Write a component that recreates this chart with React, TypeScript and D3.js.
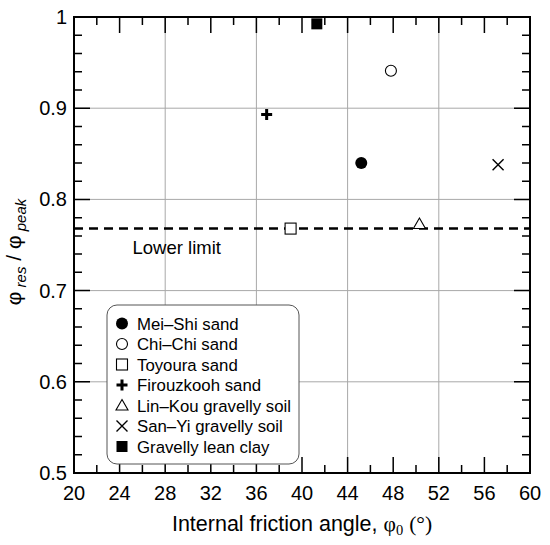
import { useEffect, useRef } from "react";
import * as d3 from "d3";

const seriesNames = [
  "Mei–Shi sand",
  "Chi–Chi sand",
  "Toyoura sand",
  "Firouzkooh sand",
  "Lin–Kou gravelly soil",
  "San–Yi gravelly soil",
  "Gravelly lean clay",
];
const seriesSymbols = ["dotFilled", "dotOpen", "squareOpen", "plus", "triangle", "cross", "squareFilled"];
const frictionAngle = [45.2, 47.8, 39.0, 36.9, 50.3, 57.2, 41.3];
const ratioValues = [0.84, 0.941, 0.768, 0.893, 0.773, 0.838, 0.9925];
const lowerLimit = 0.768;

const xTicks = [20, 24, 28, 32, 36, 40, 44, 48, 52, 56, 60];
const xGrid = [28, 36, 44, 52];
const yTicks = [0.5, 0.6, 0.7, 0.8, 0.9, 1];
const yTickLabels = ["0.5", "0.6", "0.7", "0.8", "0.9", "1"];

const FONT = "'Liberation Sans', Arial, sans-serif";

type Sel = d3.Selection<SVGGElement, unknown, null, undefined>;

function drawSymbol(g: Sel, kind: string, cx: number, cy: number) {
  const s = 5.5;
  if (kind === "dotFilled") {
    g.append("circle").attr("cx", cx).attr("cy", cy).attr("r", 6).attr("fill", "#000");
  } else if (kind === "dotOpen") {
    g.append("circle").attr("cx", cx).attr("cy", cy).attr("r", 5.5)
      .attr("fill", "#fff").attr("stroke", "#000").attr("stroke-width", 1.1);
  } else if (kind === "squareOpen") {
    g.append("rect").attr("x", cx - s).attr("y", cy - s).attr("width", 2 * s).attr("height", 2 * s)
      .attr("fill", "#fff").attr("stroke", "#000").attr("stroke-width", 1.1);
  } else if (kind === "squareFilled") {
    g.append("rect").attr("x", cx - s).attr("y", cy - s).attr("width", 2 * s).attr("height", 2 * s)
      .attr("fill", "#000");
  } else if (kind === "plus") {
    g.append("path")
      .attr("d", `M${cx - s},${cy}H${cx + s}M${cx},${cy - s}V${cy + s}`)
      .attr("stroke", "#000").attr("stroke-width", 3);
  } else if (kind === "triangle") {
    g.append("path")
      .attr("d", `M${cx},${cy - 6}L${cx + 6},${cy + 4.5}L${cx - 6},${cy + 4.5}Z`)
      .attr("fill", "#fff").attr("stroke", "#000").attr("stroke-width", 1.1);
  } else if (kind === "cross") {
    g.append("path")
      .attr("d", `M${cx - s},${cy - s}L${cx + s},${cy + s}M${cx - s},${cy + s}L${cx + s},${cy - s}`)
      .attr("stroke", "#000").attr("stroke-width", 1.4);
  }
}

function ResidualChart() {
  const svgRef = useRef<SVGSVGElement>(null);
  const width = 550;
  const height = 545;

  useEffect(() => {
    if (!svgRef.current) return;
    const svg = d3.select(svgRef.current);
    svg.selectAll("*").remove();

    const left = 74, right = 530, top = 17, bottom = 473;
    const x = d3.scaleLinear().domain([20, 60]).range([left, right]);
    const y = d3.scaleLinear().domain([0.5, 1]).range([bottom, top]);

    const g = svg.append("g") as unknown as Sel;

    g.append("rect").attr("width", width).attr("height", height).attr("fill", "#fff");

    // grid
    g.selectAll(".gx").data(xGrid).enter().append("line")
      .attr("x1", (d) => x(d)).attr("x2", (d) => x(d))
      .attr("y1", top).attr("y2", bottom)
      .attr("stroke", "#a8a8a8").attr("stroke-width", 1);
    g.selectAll(".gy").data(yTicks.slice(1, -1)).enter().append("line")
      .attr("x1", left).attr("x2", right)
      .attr("y1", (d) => y(d)).attr("y2", (d) => y(d))
      .attr("stroke", "#a8a8a8").attr("stroke-width", 1);

    // ticks (inward, both sides)
    const xMinor = d3.range(22, 60, 4);
    const yMinor = d3.range(0, 26).map((i) => 0.5 + i * 0.02).filter((v) => Math.round(v * 100) % 10 !== 0);
    const tickPath = d3.path();
    xTicks.forEach((v) => {
      tickPath.moveTo(x(v), bottom); tickPath.lineTo(x(v), bottom - 16);
      tickPath.moveTo(x(v), top); tickPath.lineTo(x(v), top + 16);
    });
    xMinor.forEach((v) => {
      tickPath.moveTo(x(v), bottom); tickPath.lineTo(x(v), bottom - 8);
      tickPath.moveTo(x(v), top); tickPath.lineTo(x(v), top + 8);
    });
    yTicks.forEach((v) => {
      tickPath.moveTo(left, y(v)); tickPath.lineTo(left + 16, y(v));
      tickPath.moveTo(right, y(v)); tickPath.lineTo(right - 16, y(v));
    });
    yMinor.forEach((v) => {
      tickPath.moveTo(left, y(v)); tickPath.lineTo(left + 8, y(v));
      tickPath.moveTo(right, y(v)); tickPath.lineTo(right - 8, y(v));
    });
    g.append("path").attr("d", tickPath.toString()).attr("stroke", "#000").attr("stroke-width", 1.5).attr("fill", "none");

    // lower limit line
    g.append("line")
      .attr("x1", left).attr("x2", right)
      .attr("y1", y(lowerLimit)).attr("y2", y(lowerLimit))
      .attr("stroke", "#000").attr("stroke-width", 2.5).attr("stroke-dasharray", "9,6");
    g.append("text")
      .attr("x", 132.5).attr("y", 253.5)
      .attr("font-family", FONT).attr("font-size", 18.5)
      .text("Lower limit");

    // points
    seriesNames.forEach((_, i) => {
      drawSymbol(g, seriesSymbols[i], x(frictionAngle[i]), y(ratioValues[i]));
    });

    // frame
    g.append("rect")
      .attr("x", left).attr("y", top).attr("width", right - left).attr("height", bottom - top)
      .attr("fill", "none").attr("stroke", "#000").attr("stroke-width", 2);

    // legend
    const lg = g.append("g");
    lg.append("rect")
      .attr("x", 107).attr("y", 305).attr("width", 192).attr("height", 159)
      .attr("rx", 10).attr("ry", 10)
      .attr("fill", "#fff").attr("stroke", "#555").attr("stroke-width", 1);
    seriesNames.forEach((name, i) => {
      const cy = 323.5 + i * 20.5;
      drawSymbol(lg as unknown as Sel, seriesSymbols[i], 122, cy);
      lg.append("text")
        .attr("x", 137).attr("y", cy + 6)
        .attr("font-family", FONT).attr("font-size", 16.8)
        .text(name);
    });

    // tick labels
    g.selectAll(".xl").data(xTicks).enter().append("text")
      .attr("x", (d) => x(d)).attr("y", 500)
      .attr("text-anchor", "middle")
      .attr("font-family", FONT).attr("font-size", 20)
      .text((d) => String(d));
    g.selectAll(".yl").data(yTicks).enter().append("text")
      .attr("x", 67).attr("y", (d) => y(d) + 7)
      .attr("text-anchor", "end")
      .attr("font-family", FONT).attr("font-size", 20)
      .text((_, i) => yTickLabels[i]);

    // x title
    const xt = g.append("text")
      .attr("x", 302).attr("y", 531)
      .attr("text-anchor", "middle")
      .attr("font-family", FONT).attr("font-size", 21.5);
    xt.append("tspan").text("Internal friction angle, ");
    xt.append("tspan").attr("font-family", "'Liberation Serif', serif").text("φ");
    xt.append("tspan").attr("font-family", "'Liberation Serif', serif").attr("font-size", 14.5).attr("dy", 4).text("0");
    xt.append("tspan").attr("dy", -4).text(" ");
    xt.append("tspan").attr("font-family", "'Liberation Serif', serif").text("(°)");

    // y title
    const yt = g.append("text")
      .attr("transform", `translate(21,252) rotate(-90)`)
      .attr("text-anchor", "middle")
      .attr("font-family", FONT).attr("font-size", 21);
    yt.append("tspan").text("φ");
    yt.append("tspan").attr("font-size", 15).attr("font-style", "italic").attr("dy", 5).text(" res");
    yt.append("tspan").attr("dy", -5).text(" / φ");
    yt.append("tspan").attr("font-size", 15).attr("font-style", "italic").attr("dy", 5).text(" peak");
  }, []);

  return (
    <svg
      ref={svgRef}
      width={width}
      height={height}
      style={{ position: "absolute", left: 0, top: 0 }}
    />
  );
}

export default function App() {
  return <ResidualChart />;
}
